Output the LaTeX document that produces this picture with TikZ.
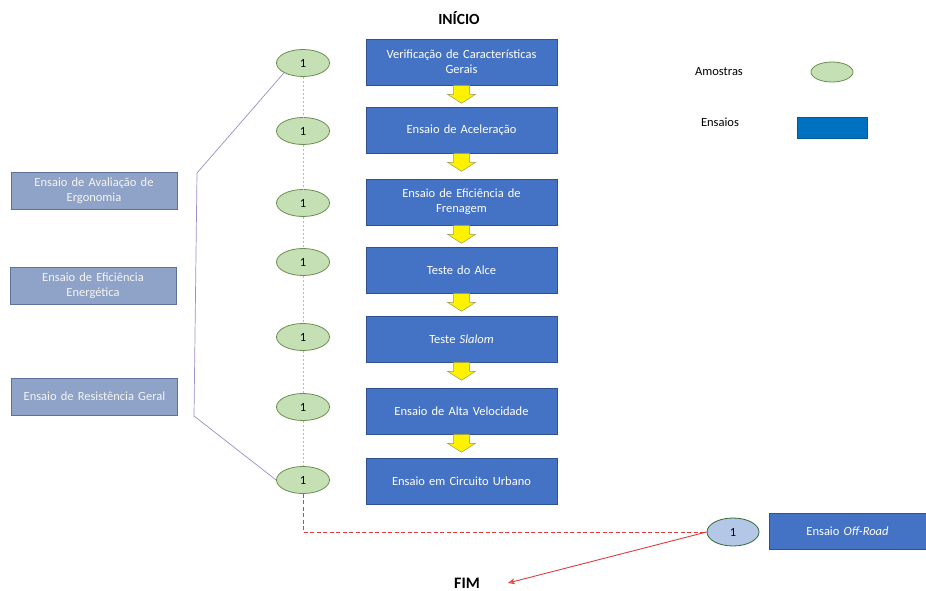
\documentclass[tikz,border=0pt]{standalone}
\usepackage{fontspec}
\setmainfont{Carlito}
\usetikzlibrary{calc,shapes.geometric,arrows.meta}
\definecolor{mainblue}{HTML}{4472C4}
\definecolor{mainborder}{HTML}{2F528F}
\definecolor{sideblue}{HTML}{8FA2C8}
\definecolor{sideborder}{HTML}{5E719B}
\definecolor{legblue}{HTML}{0070C0}
\definecolor{egreen}{HTML}{C5E0B4}
\definecolor{egreenb}{HTML}{6A8F4E}
\definecolor{elblue}{HTML}{B4C7E7}
\definecolor{purp}{HTML}{9E8BC9}
\definecolor{redl}{HTML}{E03C3C}
\definecolor{yborder}{HTML}{9A9A50}
\begin{document}
\begin{tikzpicture}[x=1pt,y=-1pt,
  mainbox/.style={draw=mainborder,line width=0.6pt,fill=mainblue,text=white,
    minimum width=191pt,minimum height=46pt,inner sep=2pt,align=center,text width=185pt,
    font=\fontsize{12.5}{15}\selectfont},
  sidebox/.style={draw=sideborder,line width=0.8pt,fill=sideblue,text=white!92!gray,
    minimum width=166pt,minimum height=37pt,inner sep=2pt,align=center,text width=162pt,
    font=\fontsize{12.5}{15}\selectfont},
  sample/.style={ellipse,draw=egreenb,line width=0.8pt,fill=egreen,minimum width=53pt,
    minimum height=27pt,inner sep=0pt,font=\fontsize{12.5}{15}\selectfont},
  yarr/.style={draw=yborder,line width=0.5pt,fill=yellow},
  greyd/.style={draw=gray!55,line width=0.8pt,dash pattern=on 2pt off 2pt},
  yarrow/.pic={\path[yarr] (-8,0) -- (-8,9) -- (-14,9) -- (0,18) -- (14,9) -- (8,9) -- (8,0) -- cycle;}
]
\useasboundingbox (0,0) rectangle (926,591);
% main boxes
\node[mainbox] (b1) at (461.5,62) {Verificação de Características\\Gerais};
\node[mainbox] (b2) at (461.5,130) {Ensaio de Aceleração};
\node[mainbox] (b3) at (461.5,202) {Ensaio de Eficiência de\\Frenagem};
\node[mainbox] (b4) at (461.5,270) {Teste do Alce};
\node[mainbox] (b5) at (461.5,339) {Teste \textit{Slalom}};
\node[mainbox] (b6) at (461.5,411) {Ensaio de Alta Velocidade};
\node[mainbox] (b7) at (461.5,481) {Ensaio em Circuito Urbano};
% yellow arrows
\foreach \b in {b1,b2,b3,b4,b5,b6} {\pic at (\b.south) {yarrow};}
% samples
\node[sample] (e1) at (303,63) {1};
\node[sample] (e2) at (303,131) {1};
\node[sample] (e3) at (303,203) {1};
\node[sample] (e4) at (303,262) {1};
\node[sample] (e5) at (303,337) {1};
\node[sample] (e6) at (303,407) {1};
\node[sample] (e7) at (303,480) {1};
\draw[greyd] (e1.south) -- (e2.north);
\draw[greyd] (e2.south) -- (e3.north);
\draw[greyd] (e3.south) -- (e4.north);
\draw[greyd] (e4.south) -- (e5.north);
\draw[greyd] (e5.south) -- (e6.north);
\draw[greyd] (e6.south) -- (e7.north);
% side boxes
\node[sidebox] (s1) at (94,190.5) {Ensaio de Avaliação de\\Ergonomia};
\node[sidebox] (s2) at (93,285.5) {Ensaio de Eficiência\\Energética};
\node[sidebox] (s3) at (94.5,396.5) {Ensaio de Resistência Geral};
% bracket
\coordinate (bt) at (197,173);
\coordinate (bb) at (194,416);
\draw[purp,line width=0.7pt] (e1.south west) -- (bt) -- (bb) -- (e7.west);
% titles
\node[font=\fontsize{15.5}{18}\selectfont\bfseries] (ini) at (459,18) {INÍCIO};
\node[font=\fontsize{16}{18}\selectfont\bfseries,inner sep=2pt] (fim) at (467,583) {FIM};
% off-road
\node[sample,fill=elblue,draw=gray!60!green!60!black,minimum width=52pt,minimum height=28pt] (oe) at (733,532) {1};
\node[mainbox,minimum width=157pt,minimum height=36pt,text width=150pt] (ob) at (847.5,531) {Ensaio \textit{Off-Road}};
\draw[redl,line width=0.9pt,dash pattern=on 4pt off 2.5pt] (e7.south) |- (oe.west);
\draw[redl,line width=0.9pt,-{Stealth[length=7pt,width=6pt,open]}] (oe.west) -- ([xshift=26pt]fim.east);
% legend
\node[font=\fontsize{12.5}{15}\selectfont] (la) at (719,72) {Amostras};
\node[ellipse,draw=egreenb,line width=0.8pt,fill=egreen,minimum width=42pt,minimum height=20pt,inner sep=0pt] (le) at (832,72) {};
\node[font=\fontsize{12.5}{15}\selectfont] (lb) at (720,122) {Ensaios};
\node[draw=legblue!80!black,line width=0.4pt,fill=legblue,minimum width=70pt,minimum height=21pt,inner sep=0pt] (lr) at (832,127.5) {};
\end{tikzpicture}
\end{document}
